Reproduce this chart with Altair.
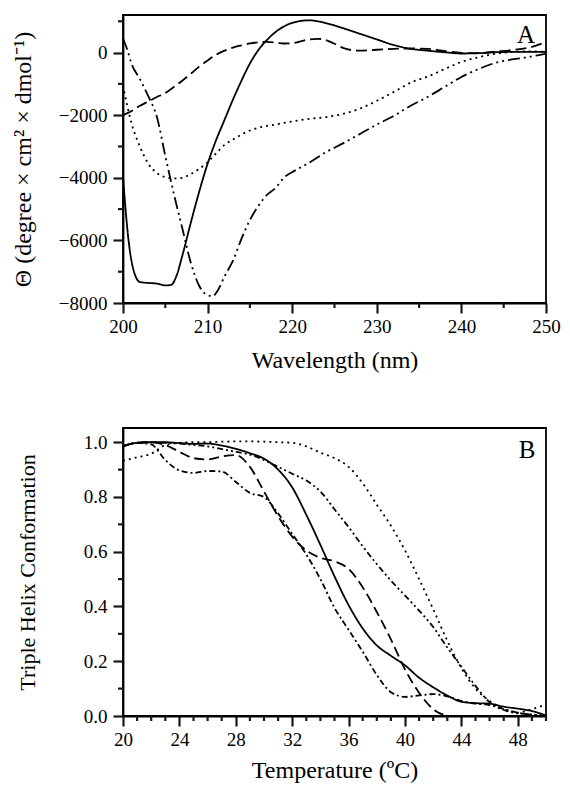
import altair as alt
import pandas as pd

FONT = "Liberation Serif"

# ---------------- Panel A : CD spectra ----------------
wl_a1 = [200, 200.3, 200.7, 201.2, 202, 203, 204, 205, 205.7, 206.3, 207, 208, 209, 210, 211, 212, 213,
         214, 215, 216, 217, 218, 219, 220, 222, 224, 226, 228, 230, 232, 234, 236, 238, 240, 242, 244,
         246, 248, 250]
th_a1 = [-3950, -5000, -6100, -6900, -7330, -7360, -7380, -7440, -7420, -7150, -6500, -5450, -4450, -3550,
         -2800, -2150, -1500, -900, -350, 80, 400, 650, 830, 950, 1030, 940, 780, 600, 420, 240, 120, 60,
         10, -30, -20, 10, 20, 20, 20]

wl_a2 = [200, 201, 202, 203, 204, 205, 206, 207, 208, 209, 210, 211, 212, 213, 214, 215, 216, 217, 218,
         219, 220, 221, 222, 223, 224, 225, 226, 227, 228, 229, 230, 232, 234, 236, 238, 240, 242, 244,
         246, 248, 250]
th_a2 = [-2000, -1870, -1700, -1560, -1420, -1290, -1100, -900, -680, -450, -250, -70, 60, 160, 230, 290,
         330, 340, 320, 290, 300, 360, 420, 440, 400, 280, 150, 80, 60, 70, 90, 120, 130, 120, 50, -10,
         -20, 30, 80, 160, 340]

wl_a3 = [200, 200.5, 201, 202, 203, 204, 205, 206, 207, 208, 209, 210, 211, 212, 213, 214, 215, 216, 218,
         220, 222, 224, 226, 228, 230, 232, 234, 236, 238, 240, 242, 244, 246, 248, 250]
th_a3 = [-1050, -1700, -2250, -3000, -3550, -3850, -3980, -4020, -4000, -3880, -3720, -3500, -3220, -2950,
         -2780, -2620, -2490, -2400, -2300, -2200, -2120, -2060, -1960, -1790, -1540, -1260, -960, -770,
         -530, -300, -150, -40, 20, 40, 20]

wl_a4 = [200, 200.5, 201, 202, 203, 204, 205, 206, 207, 208, 209, 210, 210.6, 211.2, 212, 213, 214, 215,
         216, 217, 218, 219, 220, 222, 224, 226, 228, 230, 232, 234, 236, 238, 240, 242, 244, 246, 248, 250]
th_a4 = [450, 100, -350, -850, -1400, -2050, -3300, -4500, -5600, -6700, -7450, -7750, -7780, -7600, -7150,
         -6650, -5950, -5350, -4900, -4550, -4330, -4000, -3820, -3520, -3180, -2900, -2600, -2300, -2020,
         -1700, -1420, -1100, -780, -530, -330, -220, -140, -30]

# ---------------- Panel B : melting curves ----------------
t_full = list(range(20, 51))
t_b2 = list(range(20, 44))
f_b1 = [0.985, 0.998, 1.0, 1.0, 0.997, 0.994, 0.995, 0.988, 0.976, 0.96, 0.94, 0.9, 0.835, 0.735, 0.625,
        0.51, 0.405, 0.32, 0.258, 0.22, 0.185, 0.14, 0.105, 0.075, 0.052, 0.047, 0.045, 0.034, 0.027,
        0.018, 0.002]
f_b2 = [0.985, 0.998, 1.0, 0.99, 0.965, 0.942, 0.937, 0.948, 0.953, 0.91, 0.82, 0.73, 0.655, 0.605, 0.578,
        0.565, 0.537, 0.47, 0.38, 0.28, 0.17, 0.085, 0.025, 0.0]
f_b3 = [0.932, 0.945, 0.958, 0.99, 0.998, 1.0, 1.0, 1.002, 1.003, 1.003, 1.002, 1.0, 0.998, 0.985, 0.962,
        0.942, 0.91, 0.85, 0.772, 0.695, 0.605, 0.5, 0.39, 0.275, 0.175, 0.1, 0.055, 0.025, 0.012, 0.025,
        0.042]
f_b4 = [0.985, 0.998, 1.0, 0.998, 0.995, 0.99, 0.985, 0.975, 0.965, 0.955, 0.935, 0.91, 0.885, 0.86, 0.82,
        0.755, 0.69, 0.62, 0.555, 0.495, 0.44, 0.385, 0.325, 0.25, 0.18, 0.11, 0.05, 0.022, 0.01, 0.005,
        0.0]
f_b5 = [0.985, 0.998, 0.992, 0.935, 0.897, 0.888, 0.895, 0.893, 0.855, 0.815, 0.8, 0.74, 0.665, 0.59, 0.5,
        0.395, 0.315, 0.235, 0.15, 0.087, 0.07, 0.075, 0.08, 0.072, 0.055, 0.045, 0.04, 0.025, 0.012,
        0.005, 0.0]

# axis ticks (major labelled, minor unlabelled)
xA_major = [200, 210, 220, 230, 240, 250]
xA_minor = [205, 215, 225, 235, 245]
yA_major = [-8000, -6000, -4000, -2000, 0]
yA_minor = [-7000, -5000, -3000, -1000, 1000]
xB_major = [20, 24, 28, 32, 36, 40, 44, 48]
xB_minor = [t for t in range(21, 51) if t % 4 != 0]
yB_major = [0.0, 0.2, 0.4, 0.6, 0.8, 1.0]
yB_minor = [0.1, 0.3, 0.5, 0.7, 0.9]

DASH_A = {"a1": [1, 0], "a2": [11, 5], "a3": [2, 4], "a4": [12, 4, 2, 4, 2, 4]}
DASH_B = {"b1": [1, 0], "b2": [10, 5], "b3": [2, 4], "b4": [6, 3, 2, 3, 2, 3], "b5": [6, 3, 2, 3]}


def long_df(series):
    rows = []
    for name, xs, ys in series:
        for x, y in zip(xs, ys):
            rows.append({"s": name, "x": x, "y": y})
    return pd.DataFrame(rows)


dfA = long_df([("a1", wl_a1, th_a1), ("a2", wl_a2, th_a2), ("a3", wl_a3, th_a3), ("a4", wl_a4, th_a4)])
dfB = long_df([("b1", t_full, f_b1), ("b2", t_b2, f_b2), ("b3", t_full, f_b3), ("b4", t_full, f_b4),
               ("b5", t_full, f_b5)])

MAJ, MIN = 10, 5
TICK_COLOR = "#1a1a1a"
common = dict(domainColor="black", domainWidth=1.8, tickColor=TICK_COLOR, tickWidth=2.2, tickSize=MAJ,
              labelFont=FONT, labelFontSize=19, labelColor="black", labelFlush=False,
              titleFont=FONT, titleFontWeight="normal", titleColor="black", grid=False)


def panel(df, dashes, xdom, ydom, xmaj, xmin, ymaj, ymin, xtitle, ytitle, xfmt, yfmt,
          xpad, ypad, ytitle_size, letter, letter_xy, w, h):
    X = alt.X("x:Q", scale=alt.Scale(domain=xdom, nice=False, zero=False, padding=0),
              axis=alt.Axis(title=xtitle, values=xmaj, format=xfmt, labelPadding=4,
                            titleFontSize=24, titlePadding=xpad, **common))
    Y = alt.Y("y:Q", scale=alt.Scale(domain=ydom, nice=False, zero=False, padding=0),
              axis=alt.Axis(title=ytitle, values=ymaj, format=yfmt, labelPadding=6,
                            titleFontSize=ytitle_size, titlePadding=ypad, **common))
    lines = alt.Chart(df).mark_line(color="black", strokeWidth=1.8, interpolate="monotone").encode(
        x=X, y=Y, detail="s:N",
        strokeDash=alt.StrokeDash("s:N", scale=alt.Scale(domain=list(dashes), range=list(dashes.values())),
                                  legend=None))
    xt = alt.Chart(pd.DataFrame({"x": xmin})).mark_bar(color=TICK_COLOR, size=2.2).encode(
        x=X, y=alt.value(h), y2=alt.value(h + MIN))
    yt = alt.Chart(pd.DataFrame({"y": ymin})).mark_bar(color=TICK_COLOR, size=2.2, orient="horizontal").encode(
        y=Y, x=alt.value(-MIN), x2=alt.value(0))
    txt = alt.Chart(pd.DataFrame({"t": [letter]})).mark_text(font=FONT, fontSize=25, color="black").encode(
        text="t:N", x=alt.value(letter_xy[0]), y=alt.value(letter_xy[1]))
    return alt.layer(lines, xt, yt, txt).properties(width=w, height=h)


W = 423
panelA = panel(dfA, DASH_A, [200, 250], [-8000, 1200], xA_major, xA_minor, yA_major, yA_minor,
               "Wavelength (nm)", "\u0398 (degree \u00d7 cm\u00b2 \u00d7 dmol\u207b\u00b9)", "d", "d",
               12, 23, 24, "A", (403, 20), W, 288)
panelB = panel(dfB, DASH_B, [20, 50], [0, 1.052], xB_major, xB_minor, yB_major, yB_minor,
               "Temperature (\u00baC)", "Triple Helix Conformation", "d", ".1f",
               9, 44, 22, "B", (404, 22), W, 288)

chart = alt.vconcat(panelA, panelB, spacing=54).resolve_scale(strokeDash="independent").configure_view(
    stroke="black", strokeWidth=1.8).properties(
    padding={"left": 2, "top": 6, "right": 0, "bottom": 0})

chart.save("out.html", embed_options={"renderer": "svg", "actions": False})
